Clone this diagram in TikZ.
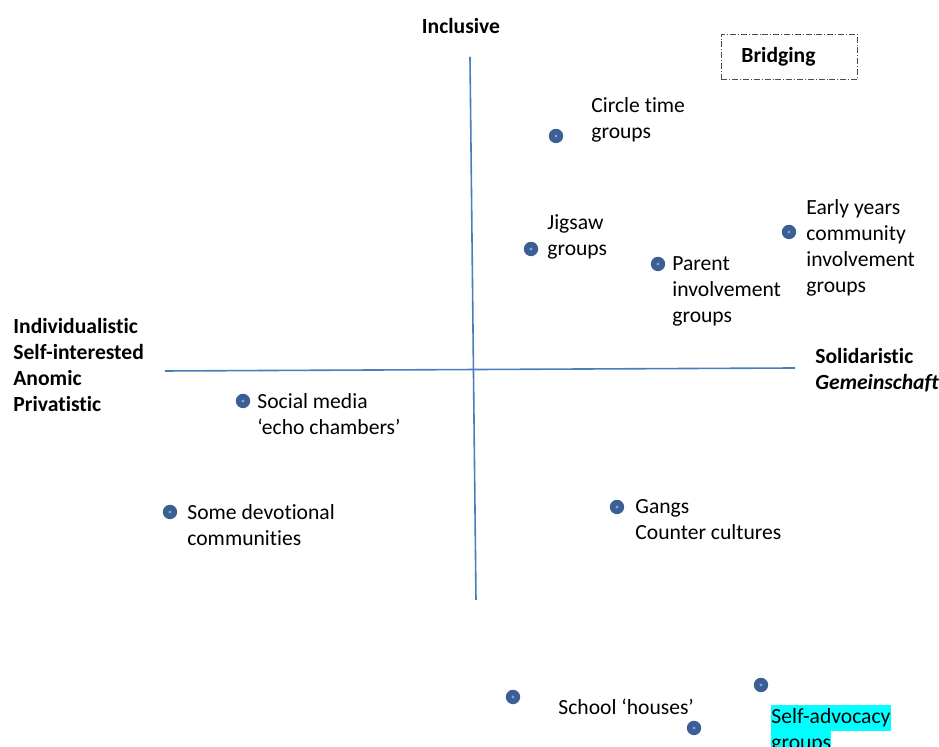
\documentclass[tikz,border=0pt]{standalone}
\usepackage{fontspec}
\setmainfont{Carlito}[Ligatures=NoCommon]
\definecolor{axisblue}{HTML}{4A7EBB}
\definecolor{dotblue}{HTML}{3B5F95}
\definecolor{dotlight}{HTML}{7FA3D6}
\definecolor{hilite}{HTML}{00FFFF}
\begin{document}
\begin{tikzpicture}[x=0.5pt,y=-0.5pt,
    dot/.style = {circle,fill=dotblue,inner sep=0pt,minimum size=7.2pt,
        path picture={\fill[dotlight] (path picture bounding box.center) circle (0.8pt);}},
    lbl/.style = {anchor=north west,align=left,inner sep=0pt,font=\fontsize{10.8}{13}\selectfont},
    head/.style = {lbl,font=\fontsize{10.8}{13}\selectfont\bfseries},
    axis/.style = {axisblue,line width=0.8pt}]
                \useasboundingbox (0,0) rectangle (939,747);

                \coordinate (top) at (470,57);
                \coordinate (bottom) at (476,600);
                \coordinate (left) at (165,371);
                \coordinate (right) at (795,368);
                \draw[axis] (top) -- (bottom);
                \draw[axis] (left) -- (right);

                \node[head,anchor=center] (incl) at (461,26) {Inclusive};
                \node[head,draw=black!70,densely dashdotted,line width=0.4pt,
                    inner xsep=10pt,text width=48pt,minimum height=22.5pt]
                    (brg) at (721,34) {Bridging};
                \node[head] (indiv) at (13,318)
                    {Individualistic\\Self-interested\\Anomic\\Privatistic};
                \node[head] (solid) at (815,348)
                    {Solidaristic\\\textit{Gemeinschaft}};

                \node[dot] (cir) at (556,136) {};
                \node[lbl] (cirtxt) at (591,97) {Circle time\\groups};
                \node[dot] (jig) at (531,249) {};
                \node[lbl] (jigtxt) at (547,214) {Jigsaw\\groups};
                \node[dot] (par) at (658,264) {};
                \node[lbl] (partxt) at (672,256) {Parent\\involvement\\groups};
                \node[dot] (ear) at (789,232) {};
                \node[lbl] (eartxt) at (806,199)
                    {Early years\\community\\involvement\\groups};
                \node[dot] (soc) at (243,401) {};
                \node[lbl] (soctxt) at (257,393) {Social media\\`echo chambers'};
                \node[dot] (dev) at (170,512) {};
                \node[lbl] (devtxt) at (187,504) {Some devotional\\communities};
                \node[dot] (gan) at (617,507) {};
                \node[lbl] (gantxt) at (635,499) {Gangs\\Counter cultures};
                \node[dot] (sch) at (513,697) {};
                \node[dot] (sch2) at (694,728) {};
                \node[lbl] (schtxt) at (558,699) {School `houses'};
                \node[dot] (adv) at (761,685) {};
                \node[lbl] (advtxt) at (771,705)
                    {\setlength{\fboxsep}{0pt}\colorbox{hilite}{\strut Self-advocacy}\\
                     \setlength{\fboxsep}{0pt}\colorbox{hilite}{\strut groups}};
\end{tikzpicture}
\end{document}
